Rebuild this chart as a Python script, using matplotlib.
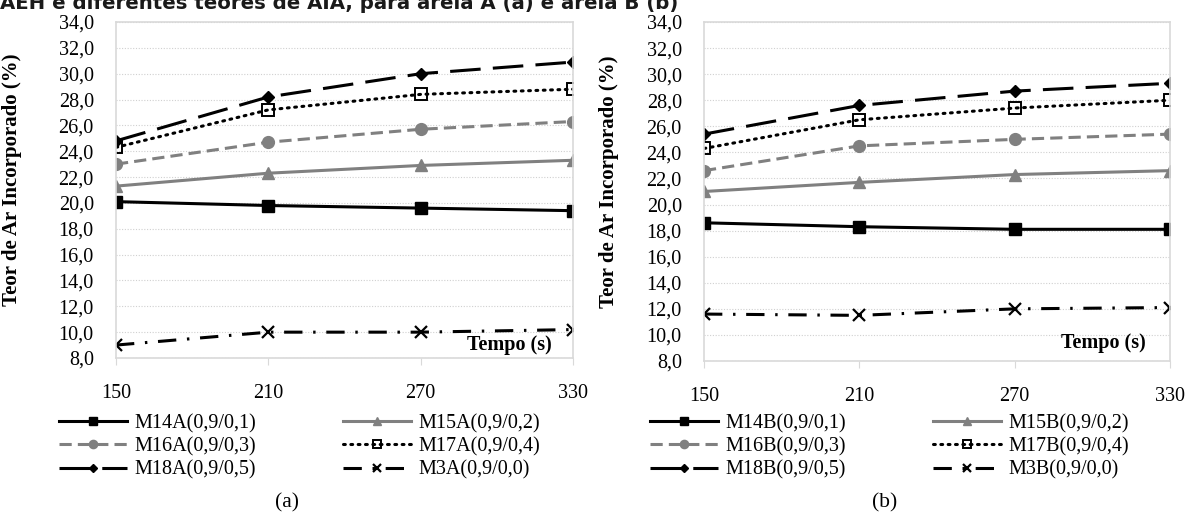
import matplotlib
matplotlib.use("Agg")
import matplotlib.pyplot as plt
from matplotlib.ticker import FuncFormatter

plt.rcParams['font.family'] = 'Liberation Serif'

tempo = [150, 210, 270, 330]

# areia A
m14a = [20.1, 19.8, 19.6, 19.4]
m15a = [21.3, 22.3, 22.9, 23.3]
m16a = [23.0, 24.7, 25.7, 26.3]
m17a = [24.3, 27.2, 28.4, 28.8]
m18a = [24.8, 28.2, 30.0, 30.9]
m3a = [9.0, 10.0, 10.0, 10.2]

# areia B
m14b = [18.6, 18.3, 18.1, 18.1]
m15b = [21.0, 21.7, 22.3, 22.6]
m16b = [22.6, 24.5, 25.0, 25.4]
m17b = [24.3, 26.5, 27.4, 28.0]
m18b = [25.4, 27.6, 28.7, 29.3]
m3b = [11.6, 11.5, 12.0, 12.1]

labels_a = ["M14A(0,9/0,1)", "M15A(0,9/0,2)", "M16A(0,9/0,3)",
            "M17A(0,9/0,4)", "M18A(0,9/0,5)", "M3A(0,9/0,0)"]
labels_b = ["M14B(0,9/0,1)", "M15B(0,9/0,2)", "M16B(0,9/0,3)",
            "M17B(0,9/0,4)", "M18B(0,9/0,5)", "M3B(0,9/0,0)"]

GRAY = '#808080'
styles = [
    dict(color='black', linestyle='-', marker='s', markersize=9),
    dict(color=GRAY, linestyle='-', marker='^', markersize=8),
    dict(color=GRAY, linestyle=(0, (4, 2)), marker='o', markersize=8.5),
    dict(color='black', linestyle=(0, (0.6, 1.8)), marker='s', markersize=8,
         markerfacecolor='none', markeredgewidth=1.4, dash_capstyle='round'),
    dict(color='black', linestyle=(0, (10, 4)), marker='D', markersize=6.5),
    dict(color='black', linestyle=(0, (6, 3.5, 0.8, 3.5)), marker='x', markersize=9,
         markeredgewidth=1.6),
]

FS = 14.5
fig = plt.figure(figsize=(11.87, 5.14), dpi=100)

# caption cut at the top edge, as in the source page
fig.text(0.0, 1 - 9 / 514, "AEH e diferentes teores de AIA, para areia A (a) e areia B (b)",
         family='DejaVu Sans', fontweight='bold', fontsize=14.2, color='#1a1a1a',
         ha='left', va='baseline')


def draw_panel(rect, series, labels, tag, leg_x, ylab_x, tempo_xy, tag_x):
    ax = fig.add_axes(rect)
    x = list(range(len(tempo)))
    lines = []
    for vals, lab, st in zip(series, labels, styles):
        ln, = ax.plot(x, vals, linewidth=2.2, label=lab, **st)
        lines.append(ln)
    ax.set_xlim(0, len(tempo) - 1)
    ax.set_ylim(8, 34)
    ax.set_xticks(x)
    ax.set_xticklabels([str(t) for t in tempo])
    ax.set_yticks(range(8, 35, 2))
    ax.yaxis.set_major_formatter(FuncFormatter(lambda v, p: f"{v:.1f}".replace('.', ',')))
    ax.grid(axis='y', color='#d0d0d0', linestyle=(0, (1, 1.5)), linewidth=0.8)
    ax.set_axisbelow(True)
    for sp in ax.spines.values():
        sp.set_color('#d9d9d9')
        sp.set_linewidth(1.2)
    ax.tick_params(axis='x', direction='out', length=5, color='#d9d9d9', pad=14, labelsize=FS)
    ax.tick_params(axis='y', length=0, pad=16, labelsize=FS)
    ax.set_ylabel("Teor de Ar Incorporado (%)", fontweight='bold', fontsize=15)
    ax.yaxis.set_label_coords(ylab_x, 0.53)
    ax.text(tempo_xy[0], tempo_xy[1], "Tempo (s)", transform=ax.transAxes,
            fontweight='bold', fontsize=FS, ha='center', va='center')
    order = [0, 2, 4, 1, 3, 5]
    fig.legend([lines[i] for i in order], [labels[i] for i in order],
               loc='upper left', bbox_to_anchor=(leg_x, 1 - 414 / 514), ncol=2,
               frameon=False, fontsize=FS, handlelength=3.4, handletextpad=0.35,
               columnspacing=4.3, labelspacing=0.2, markerscale=0.7,
               borderaxespad=0, borderpad=0)
    fig.text(tag_x, 1 - 503 / 514, tag, fontsize=FS + 1, ha='center', va='center')
    return ax


draw_panel([116 / 1187, 1 - 358 / 514, 457 / 1187, 336 / 514],
           [m14a, m15a, m16a, m17a, m18a, m3a], labels_a, "(a)",
           59 / 1187, -0.205, (0.86, 0.04), 287 / 1187)
draw_panel([704 / 1187, 1 - 361 / 514, 466 / 1187, 339 / 514],
           [m14b, m15b, m16b, m17b, m18b, m3b], labels_b, "(b)",
           650 / 1187, -0.182, (0.856, 0.053), 885 / 1187)

fig.savefig("out.png", dpi=100)
